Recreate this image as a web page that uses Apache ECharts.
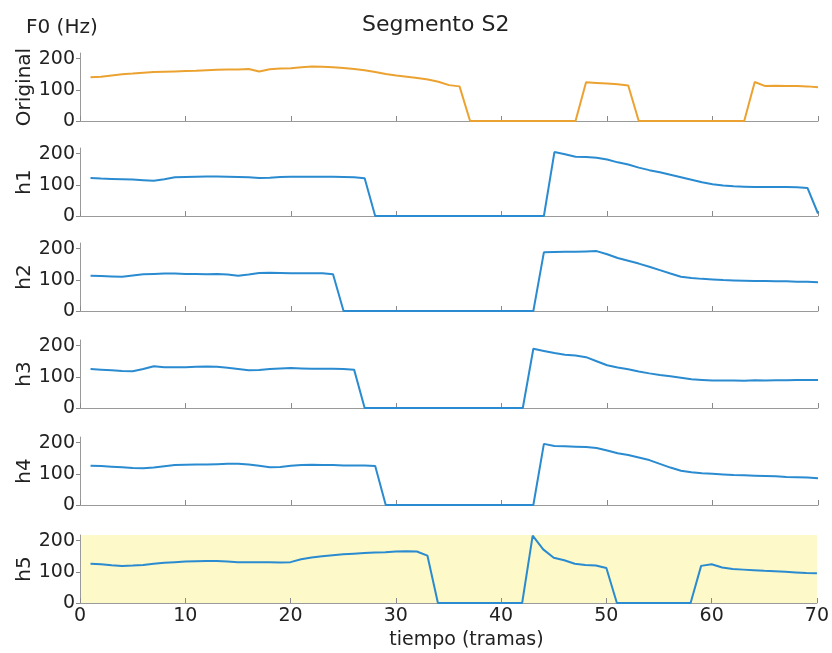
<!DOCTYPE html>
<html>
<head>
<meta charset="utf-8">
<script src="https://cdn.jsdelivr.net/npm/echarts@6/dist/echarts.min.js"></script>
<style>
  html, body { margin: 0; padding: 0; background: #ffffff; }
  #chart { width: 832px; height: 653px; }
</style>
</head>
<body>
<div id="chart"></div>
<script>
// F0 contour (Hz) per frame, frames 1..70
const panelNames = ['Original', 'h1', 'h2', 'h3', 'h4', 'h5'];

const original = [140,142,146,150,152,155,157,158,159,160,161,163,164,165,165,167,159,166,168,169,172,175,174,172,170,167,163,157,151,146,142,138,133,126,115,111,0,0,0,0,0,0,0,0,0,0,0,124,122,120,118,114,0,0,0,0,0,0,0,0,0,0,0,125,112,113,112,112,111,108];
const h1 = [122,120,119,118,117,115,113,118,124,125,126,127,127,126,125,124,122,123,125,126,126,126,126,126,125,124,121,0,0,0,0,0,0,0,0,0,0,0,0,0,0,0,0,0,205,198,190,189,187,181,172,165,155,147,140,132,124,116,108,102,98,95,94,93,93,93,93,92,90,8];
const h2 = [113,112,111,110,114,118,119,120,120,119,119,118,119,117,113,117,122,123,122,121,121,121,121,118,0,0,0,0,0,0,0,0,0,0,0,0,0,0,0,0,0,0,0,188,189,190,190,191,192,182,170,161,152,142,131,120,110,106,103,101,99,98,97,96,96,95,95,94,94,92];
const h3 = [125,123,121,119,118,125,134,131,131,131,132,133,132,129,125,121,122,125,127,128,127,126,126,126,125,123,0,0,0,0,0,0,0,0,0,0,0,0,0,0,0,0,190,183,176,171,168,163,150,137,130,124,117,111,106,102,97,92,90,88,88,88,87,89,88,89,89,90,90,90];
const h4 = [126,125,123,121,119,118,120,124,128,129,130,130,131,132,132,130,126,121,122,126,128,129,128,128,127,127,127,125,0,0,0,0,0,0,0,0,0,0,0,0,0,0,0,196,189,188,187,186,183,175,166,160,152,144,132,120,110,105,102,100,98,96,95,94,93,92,90,89,88,86];
const h5 = [126,124,121,119,120,122,126,129,131,133,134,135,135,133,131,131,131,131,130,131,140,146,150,153,156,158,160,162,163,165,166,165,152,0,0,0,0,0,0,0,0,0,216,172,145,137,126,122,120,112,0,0,0,0,0,0,0,0,119,124,114,109,107,105,103,102,100,98,96,95];

const seriesValues = [original, h1, h2, h3, h4, h5];
const xTicks = [0, 10, 20, 30, 40, 50, 60, 70];
const yTicks = [0, 100, 200];

const FONT = 'DejaVu Sans';
const lineColors = ['#eca231', '#2a8bd0', '#2a8bd0', '#2a8bd0', '#2a8bd0', '#2a8bd0'];
const zeroY = [121, 216, 311, 408, 505, 603];
const gridH = 68;
const yMax = 218;

const grids = [], xAxes = [], yAxes = [], series = [];
seriesValues.forEach((vals, i) => {
  const last = i === seriesValues.length - 1;
  grids.push({
    left: 80, right: 14, top: zeroY[i] - gridH, height: gridH,
    show: last, backgroundColor: last ? '#fdf9c8' : 'transparent', borderWidth: 0
  });
  xAxes.push({
    type: 'value', gridIndex: i, min: 0, max: 70, interval: 10,
    axisLine: { show: true, lineStyle: { color: '#9a9a9a', width: 1 } },
    axisTick: { show: true, inside: true, length: 5, lineStyle: { color: '#8a8a8a' } },
    axisLabel: { show: last, color: '#222', fontFamily: FONT, fontSize: 19, margin: 4 },
    splitLine: { show: false },
    name: last ? 'tiempo (tramas)' : '',
    nameLocation: 'middle', nameGap: 28, nameMoveOverlap: false,
    nameTextStyle: { color: '#222', fontFamily: FONT, fontSize: 19, padding: [0, 0, 0, 36] }
  });
  yAxes.push({
    type: 'value', gridIndex: i, min: 0, max: yMax, interval: 100,
    axisLine: { show: true, lineStyle: { color: '#9a9a9a', width: 1 } },
    axisTick: { show: true, inside: false, length: 4, customValues: yTicks, lineStyle: { color: '#8a8a8a' } },
    axisLabel: { color: '#222', fontFamily: FONT, fontSize: 19, margin: 5, customValues: yTicks },
    splitLine: { show: false },
    name: panelNames[i], nameLocation: 'middle', nameGap: 45, nameRotate: 90,
    nameMoveOverlap: false,
    nameTextStyle: { color: '#222', fontFamily: FONT, fontSize: 20 }
  });
  series.push({
    type: 'line', xAxisIndex: i, yAxisIndex: i,
    data: vals.map((v, k) => [k + 1, v]),
    showSymbol: false, symbol: 'none',
    lineStyle: { color: lineColors[i], width: 2 },
    animation: false
  });
});

const chart = echarts.init(document.getElementById('chart'), null, { renderer: 'canvas' });
chart.setOption({
  backgroundColor: '#ffffff',
  animation: false,
  title: [
    { text: 'Segmento S2', left: 362, top: 14, padding: 0,
      textStyle: { fontFamily: FONT, fontSize: 22, fontWeight: 'normal', color: '#222' } },
    { text: 'F0 (Hz)', left: 26, top: 18, padding: 0,
      textStyle: { fontFamily: FONT, fontSize: 20, fontWeight: 'normal', color: '#222' } }
  ],
  grid: grids,
  xAxis: xAxes,
  yAxis: yAxes,
  series: series
});
</script>
</body>
</html>
